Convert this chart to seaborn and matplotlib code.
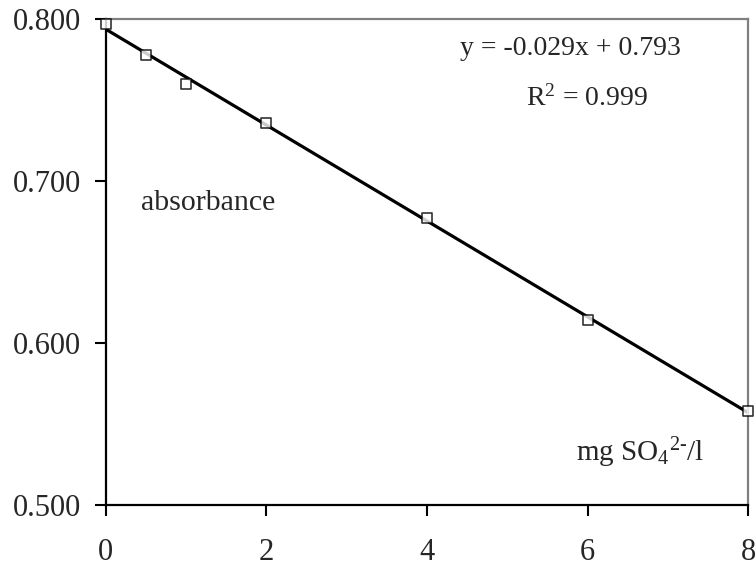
import numpy as np
import pandas as pd
import matplotlib
matplotlib.use("Agg")
import matplotlib.pyplot as plt
import seaborn as sns

# calibration data: sulphate standard vs absorbance
conc = [0, 0.5, 1, 2, 4, 6, 8]
absorbance = [0.797, 0.778, 0.760, 0.736, 0.677, 0.614, 0.558]
y_ticks = [0.5, 0.6, 0.7, 0.8]
x_ticks = [0, 2, 4, 6, 8]

df = pd.DataFrame({"conc": conc, "absorbance": absorbance})

sns.set_style("white")
plt.rcParams["font.family"] = ["Liberation Serif", "DejaVu Serif"]
plt.rcParams["mathtext.fontset"] = "custom"
plt.rcParams["mathtext.rm"] = "Liberation Serif"
plt.rcParams["mathtext.it"] = "Liberation Serif:italic"

fig = plt.figure(figsize=(7.55, 5.71), dpi=100)
ax = fig.add_axes([0.140, 0.1156, 0.851, 0.851])

sns.regplot(data=df, x="conc", y="absorbance", ax=ax, ci=None,
            marker="s",
            scatter_kws=dict(s=55, facecolors="white", edgecolors="black",
                             linewidths=1.2, zorder=3),
            line_kws=dict(color="black", lw=2.3, zorder=2))
for c in ax.collections:
    c.set_clip_on(False)

ax.set_xlim(0, 8)
ax.set_ylim(0.5, 0.8)
ax.set_xticks(x_ticks)
ax.set_yticks(y_ticks)
ax.set_yticklabels([f"{v:.3f}" for v in y_ticks])
ax.set_xlabel("")
ax.set_ylabel("")
ax.tick_params(axis="both", labelsize=22, direction="out", length=8,
               width=1.5, color="black", bottom=True, left=True)
ax.tick_params(axis="x", pad=16)
ax.tick_params(axis="y", pad=9.5)

for side in ["left", "bottom"]:
    ax.spines[side].set_color("black")
    ax.spines[side].set_linewidth(1.6)
for side in ["top", "right"]:
    ax.spines[side].set_color("#808080")
    ax.spines[side].set_linewidth(1.6)

# trend line label as shown on the original chart
ax.text(5.79, 0.782, "y = -0.029x + 0.793", fontsize=20,
        ha="center", va="center")
ax.text(5.99, 0.751, "R$^2$ = 0.999", fontsize=20, ha="center", va="center")
ax.text(1.27, 0.6865, "absorbance", fontsize=21.5, ha="center", va="center")
ax.text(6.65, 0.532, r"mg SO$_4$$^{2\text{-}}$/l", fontsize=21,
        ha="center", va="center")

fig.savefig("out.png", dpi=100)
